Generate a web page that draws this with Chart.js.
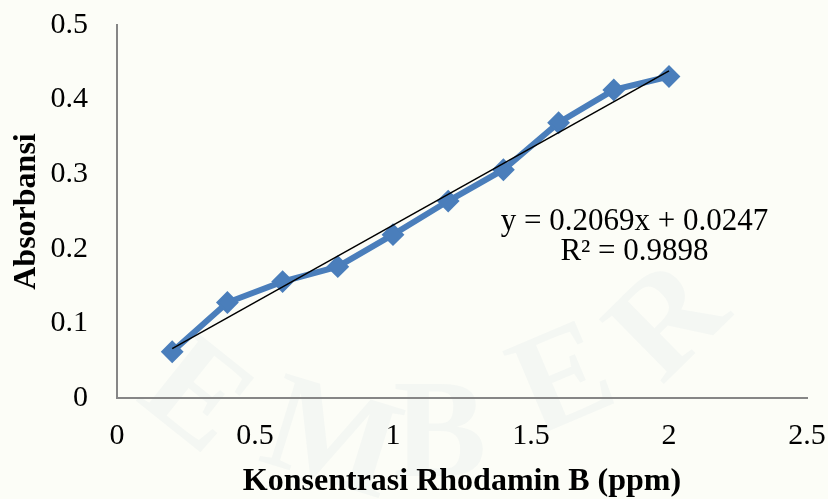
<!DOCTYPE html>
<html>
<head>
<meta charset="utf-8">
<script src="https://cdn.jsdelivr.net/npm/chart.js@4.4.1/dist/chart.umd.min.js"></script>
<style>
  html, body { margin: 0; padding: 0; background: #fcfdf7; }
  #wrap { width: 828px; height: 499px; }
</style>
</head>
<body>
<div id="wrap"><canvas id="kurva"></canvas></div>
<script>
// konsentrasi (ppm) dan absorbansi hasil pengukuran
const konsentrasi = [0.2, 0.4, 0.6, 0.8, 1.0, 1.2, 1.4, 1.6, 1.8, 2.0];
const absorbansi = [0.062, 0.128, 0.156, 0.176, 0.219, 0.264, 0.306, 0.369, 0.413, 0.431];
const xTicks = [0, 0.5, 1, 1.5, 2, 2.5];
const yTicks = [0, 0.1, 0.2, 0.3, 0.4, 0.5];

// regresi linear
const slope = 0.2069;
const intercept = 0.0247;
const r2 = 0.9898;
const persamaan = [`y = ${slope}x + ${intercept}`, `R² = ${r2}`];
const posPersamaan = { x: 1.875, y: [0.2367, 0.1965] };

const trend = [konsentrasi[0], konsentrasi[konsentrasi.length - 1]]
  .map(x => ({ x, y: slope * x + intercept }));

const serif = '"Liberation Serif", "Times New Roman", serif';

// watermark samar di latar
const latar = {
  id: 'latar',
  beforeDraw(chart) {
    const ctx = chart.ctx;
    ctx.save();
    ctx.fillStyle = '#fcfdf7';
    ctx.fillRect(0, 0, chart.width, chart.height);
    ctx.fillStyle = 'rgba(170,190,215,0.09)';
    ctx.font = `bold 140px ${serif}`;
    ctx.textAlign = 'center';
    ctx.textBaseline = 'middle';
    const cx = 440, cy = 90;
    [['E', 193, 400], ['M', 330, 445], ['B', 440, 440], ['E', 565, 385], ['R', 672, 325]]
      .forEach(([ch, x, y]) => {
        const ang = Math.atan2(y - cy, x - cx) - Math.PI / 2;
        ctx.save();
        ctx.translate(x, y);
        ctx.rotate(ang);
        ctx.fillText(ch, 0, 0);
        ctx.restore();
      });
    ctx.restore();
  }
};

const labelPersamaan = {
  id: 'labelPersamaan',
  afterDatasetsDraw(chart) {
    const { ctx, scales: { x, y } } = chart;
    ctx.save();
    ctx.fillStyle = '#000';
    ctx.font = `31px ${serif}`;
    ctx.textAlign = 'center';
    ctx.textBaseline = 'middle';
    persamaan.forEach((t, i) => {
      ctx.fillText(t, x.getPixelForValue(posPersamaan.x), y.getPixelForValue(posPersamaan.y[i]));
    });
    ctx.restore();
  }
};

new Chart(document.getElementById('kurva'), {
  type: 'scatter',
  data: {
    datasets: [
      {
        data: konsentrasi.map((x, i) => ({ x, y: absorbansi[i] })),
        showLine: true,
        borderColor: '#4a7ebb',
        backgroundColor: '#4a7ebb',
        borderWidth: 6,
        pointStyle: 'rectRot',
        pointRadius: 10,
        pointBorderWidth: 2,
        order: 2
      },
      {
        data: trend,
        showLine: true,
        borderColor: '#000',
        borderWidth: 1.5,
        pointRadius: 0,
        order: 1
      }
    ]
  },
  options: {
    responsive: true,
    maintainAspectRatio: false,
    animation: false,
    layout: { padding: { top: 25, right: 21, left: 0, bottom: 0 } },
    plugins: { legend: { display: false }, tooltip: { enabled: false } },
    scales: {
      x: {
        type: 'linear',
        min: 0, max: 2.5,
        afterBuildTicks: s => { s.ticks = xTicks.map(v => ({ value: v })); },
        afterFit: s => { s.height = 101; s.paddingLeft = 0; s.paddingRight = 0; },
        grid: { display: false, drawTicks: false },
        border: { display: true, color: '#868686', width: 2 },
        ticks: { color: '#000', font: { family: serif, size: 30 }, padding: 20, maxRotation: 0,
                 callback: v => String(v) },
        title: { display: true, text: 'Konsentrasi Rhodamin B (ppm)', color: '#000',
                 font: { family: serif, size: 32, weight: 'bold' }, padding: { top: 0, bottom: -2 } }
      },
      y: {
        type: 'linear',
        min: 0, max: 0.5,
        afterBuildTicks: s => { s.ticks = yTicks.map(v => ({ value: v })); },
        afterFit: s => { s.width = 117; s.paddingTop = 0; s.paddingBottom = 0; },
        grid: { display: false, drawTicks: false },
        border: { display: true, color: '#868686', width: 2 },
        ticks: { color: '#000', font: { family: serif, size: 30 }, padding: 29,
                 callback: v => String(v) },
        title: { display: true, text: 'Absorbansi', color: '#000',
                 font: { family: serif, size: 32, weight: 'bold' }, padding: { top: 8, bottom: 0 } }
      }
    }
  },
  plugins: [latar, labelPersamaan]
});
</script>
</body>
</html>
